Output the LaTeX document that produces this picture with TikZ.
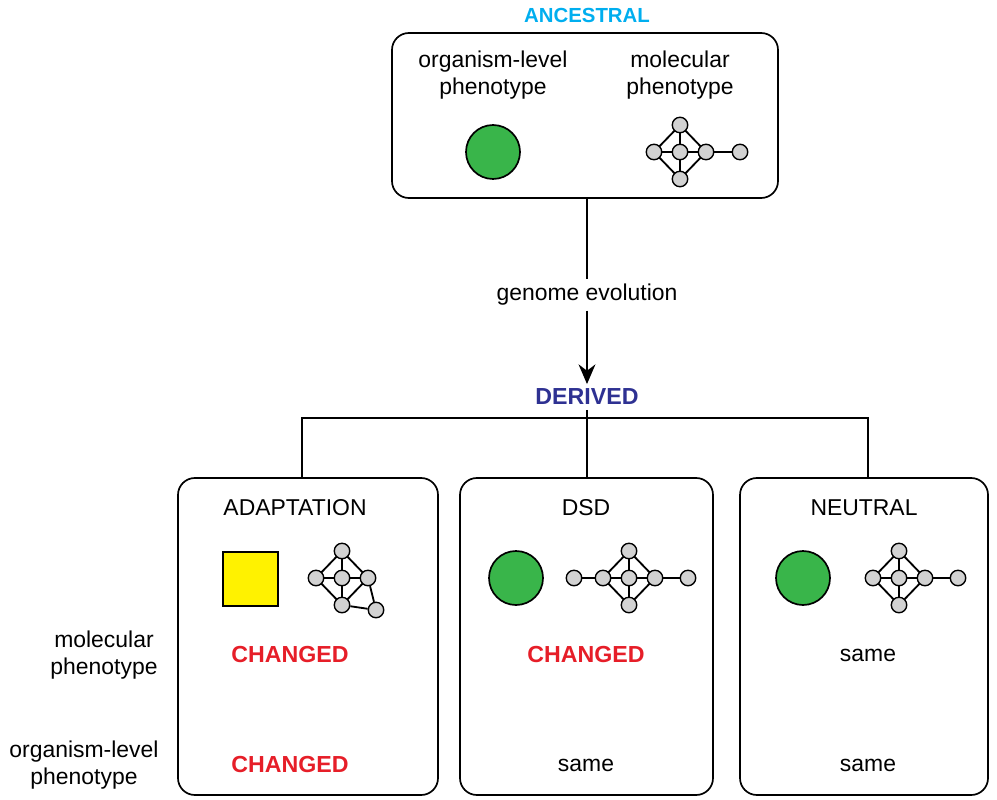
\documentclass[tikz,border=0pt]{standalone}
\usepackage{fontspec}
\setmainfont{Liberation Sans}
\usetikzlibrary{calc,arrows.meta,backgrounds}
\definecolor{anccol}{RGB}{0,174,239}
\definecolor{dercol}{RGB}{46,49,146}
\definecolor{chgcol}{RGB}{230,30,40}
\definecolor{leaf}{RGB}{57,181,74}
\tikzset{
  panel/.style={draw, line width=1.2pt, rounded corners=12pt},
  vert/.style={circle, draw, line width=1pt, fill=gray!35, minimum size=11pt, inner sep=0pt},
  edge/.style={line width=1.3pt},
  txt/.style={font=\fontsize{16.3}{19.5}\selectfont, align=center},
  head/.style={font=\fontsize{16.5}{19}\selectfont\bfseries},
  changed/.style={head, text=chgcol}
}
% network: center at #1, with prefix #2
\newcommand{\netcore}[2]{
  \node[vert] (#2c) at (#1) {};
  \node[vert] (#2t) at ($(#1)+(0,-27)$) {};
  \node[vert] (#2b) at ($(#1)+(0,27)$) {};
  \node[vert] (#2l) at ($(#1)+(-26,0)$) {};
  \node[vert] (#2r) at ($(#1)+(26,0)$) {};
  \begin{scope}[on background layer]
  \draw[edge] (#2t.center) -- (#2l.center) -- (#2b.center) -- (#2r.center) -- (#2t.center) -- (#2c.center) -- (#2b.center)
    (#2l.center) -- (#2r.center);
  \end{scope}
}
\begin{document}
\begin{tikzpicture}[x=0.025cm, y=-0.025cm]
\useasboundingbox (0,0) rectangle (997,800);
% ancestral
\node[head, font=\fontsize{14.5}{17}\selectfont\bfseries, text=anccol] (anc) at (587,15) {ANCESTRAL};
\draw[panel] (392,33) rectangle (778,198);
\node[txt] (orgA) at (493,75) {organism-level\\phenotype};
\node[txt] (molA) at (680,75) {molecular\\phenotype};
\draw[line width=1.2pt, fill=leaf] (493,152) circle (27);
\netcore{680,152}{a}
\node[vert] (af) at (740,152) {};
\draw[edge] (ar) -- (af);
% evolution
\coordinate (top) at (587,198);
\node[head, text=dercol] (der) at (587,397) {DERIVED};
\node[txt, fill=white] (evo) at (587,295) {genome evolution};
\draw[line width=1.2pt] (top) -- (evo);
\draw[line width=1.2pt, -{Stealth[length=14pt, width=12pt]}] (evo) -- (der.north);
% tree
\coordinate (jl) at (302,418);
\coordinate (jr) at (868,418);
\draw[line width=1.2pt] (302,478) -- (jl) -- (jr) -- (868,478)
  (der.south) -- (587,478);
% derived panels
\draw[panel] (178,478) rectangle (438,795);
\draw[panel] (460,478) rectangle (713,795);
\draw[panel] (740,478) rectangle (988,795);
\node[txt] (adapt) at (295,508) {ADAPTATION};
\node[txt] (dsd) at (586,508) {DSD};
\node[txt] (neut) at (864,508) {NEUTRAL};
% adaptation
\draw[line width=1.2pt, fill=yellow] (223,552) rectangle (278,606);
\netcore{342,578}{p}
\node[vert] (pf) at (376,610) {};
\draw[edge] (pr) -- (pf) -- (pb);
% dsd
\draw[line width=1.2pt, fill=leaf] (516,578) circle (27);
\netcore{629,578}{d}
\node[vert] (dfl) at (574,578) {};
\node[vert] (dfr) at (688,578) {};
\draw[edge] (dfl) -- (dl) (dr) -- (dfr);
% neutral
\draw[line width=1.2pt, fill=leaf] (803,578) circle (27);
\netcore{899,578}{n}
\node[vert] (nf) at (958,578) {};
\draw[edge] (nr) -- (nf);
% rows
\node[txt] (molL) at (104,655) {molecular\\phenotype};
\node[txt] (orgL) at (84,765) {organism-level\\phenotype};
\node[changed] (c1) at (290,655) {CHANGED};
\node[changed] (c2) at (586,655) {CHANGED};
\node[txt] (s1) at (868,655) {same};
\node[changed] (c3) at (290,765) {CHANGED};
\node[txt] (s2) at (586,765) {same};
\node[txt] (s3) at (868,765) {same};
\end{tikzpicture}
\end{document}
